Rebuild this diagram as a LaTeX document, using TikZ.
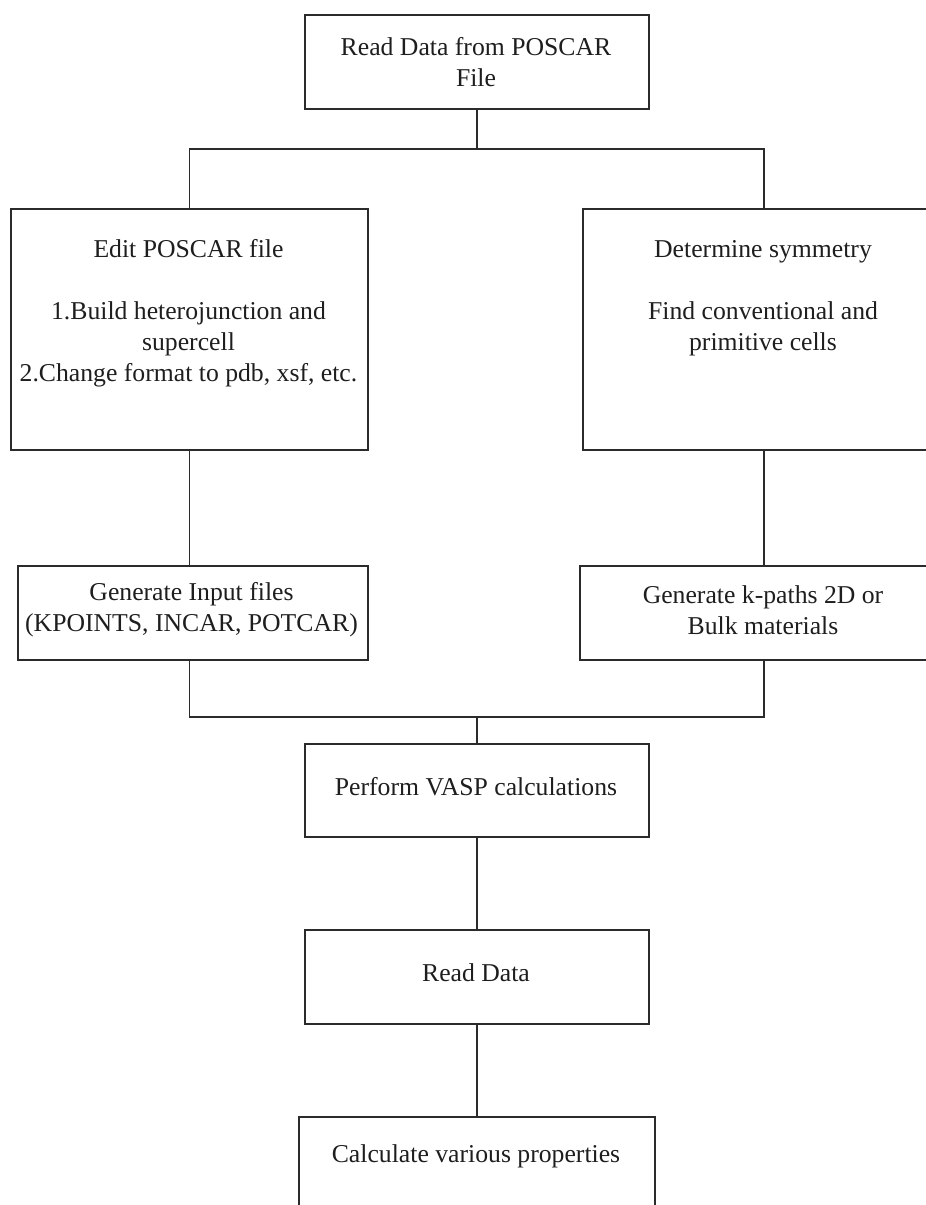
\documentclass[tikz,border=0pt]{standalone}
\usepackage{fontspec}
\setmainfont{Liberation Serif}
\usepackage{tikz}
\usetikzlibrary{positioning}
\definecolor{linegray}{HTML}{2B2B2B}
\definecolor{textgray}{HTML}{1E1E1E}

\begin{document}
\begin{tikzpicture}[
    x=1pt, y=-1pt,
    every node/.style={font=\fontsize{25.7}{31}\selectfont},
    box/.style={rectangle, draw=linegray, line width=1.9pt, anchor=north west, inner sep=0pt},
    boxtext/.style={align=center, text=textgray, inner sep=0pt},
    link/.style={draw=linegray, line width=1.9pt},
]
\clip (0,0) rectangle (926,1205);
% boxes (empty) and their texts
\node[box, minimum width=344pt, minimum height=94pt] (readpos) at (304,14) {};
\node[boxtext] (readposText) at (476,62.5) {Read Data from POSCAR\\File};
\node[box, minimum width=357pt, minimum height=241pt] (editpos) at (10,208) {};
\node[boxtext] (editposText) at (188.5,313) {Edit POSCAR file\\[31pt]1.Build heterojunction and\\supercell\\2.Change format to pdb, xsf, etc.};
\node[box, minimum width=362pt, minimum height=241pt] (symm) at (582,208) {};
\node[boxtext] (symmText) at (763,298) {Determine symmetry\\[31pt]Find conventional and\\primitive cells};
\node[box, minimum width=350pt, minimum height=94pt] (inputs) at (17,565) {};
\node[boxtext] (inputsText) at (191.5,610) {Generate Input files\\(KPOINTS, INCAR, POTCAR)};
\node[box, minimum width=368pt, minimum height=94pt] (kpath) at (579,565) {};
\node[boxtext] (kpathText) at (763,610) {Generate k-paths 2D or\\Bulk materials};
\node[box, minimum width=344pt, minimum height=93pt] (vasp) at (304,743) {};
\node[boxtext] (vaspText) at (476,787) {Perform VASP calculations};
\node[box, minimum width=344pt, minimum height=94pt] (readdata) at (304,929) {};
\node[boxtext] (readdataText) at (476,973) {Read Data};
\node[box, minimum width=356pt, minimum height=140pt] (props) at (298,1116) {};
\node[boxtext] (propsText) at (476,1156) {Calculate various properties};
% connectors
\coordinate (split) at (readpos.south |- 0,149);
\coordinate (merge) at (vasp.north |- 0,717);
\draw[link] (readpos.south) -- (split);
\draw[link] (editpos.north) |- (split) -| (symm.north);
\draw[link] (editpos.south) -- (editpos.south |- inputs.north);
\draw[link] (symm.south) -- (symm.south |- kpath.north);
\draw[link] (editpos.south |- inputs.south) |- (merge) -| (kpath.south);
\draw[link] (merge) -- (vasp.north);
\draw[link] (vasp.south) -- (readdata.north);
\draw[link] (readdata.south) -- (props.north);
\end{tikzpicture}
\end{document}
